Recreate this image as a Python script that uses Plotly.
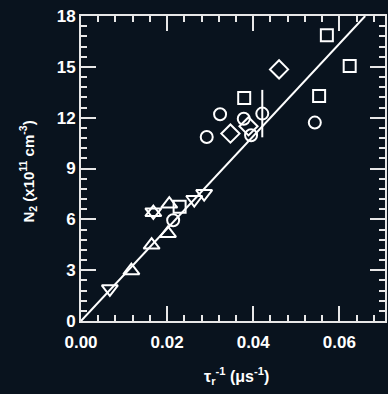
import plotly.graph_objects as go

# Data
sq_x = [0.0571, 0.0624, 0.0553, 0.0379, 0.0229]
sq_y = [16.86, 15.05, 13.28, 13.16, 6.74]

dia_x = [0.0460, 0.0347, 0.0389]
dia_y = [14.85, 11.06, 11.49]

circ_x = [0.0292, 0.0323, 0.0543, 0.0214, 0.0378, 0.0395, 0.0421]
circ_y = [10.86, 12.20, 11.71, 5.95, 11.94, 10.96, 12.24]
circ_err = [0, 0, 0, 0, 0, 0, 1.4]

tup_x = [0.0117, 0.0164, 0.0202, 0.0205, 0.0168]
tup_y = [2.97, 4.48, 5.17, 6.90, 6.40]

tdn_x = [0.0067, 0.0286, 0.0263, 0.0168]
tdn_y = [1.90, 7.52, 7.17, 6.44]

fit_x = [0.0, 0.066]
fit_y = [0.0, 18.0]

x_ticks = [0.00, 0.02, 0.04, 0.06]
x_ticklabels = ["0.00", "0.02", "0.04", "0.06"]
y_ticks = [0, 3, 6, 9, 12, 15, 18]

x_title = "τ<sub>r</sub><sup>-1</sup> (μs<sup>-1</sup>)"
y_title = "N<sub>2</sub> (x10<sup>11</sup> cm<sup>-3</sup>)"

WHITE = "#ffffff"
BG = "#09131e"
FONT = "Liberation Sans, Arial, sans-serif"

fig = go.Figure()

fig.add_trace(go.Scatter(x=fit_x, y=fit_y, mode="lines",
                         line=dict(color=WHITE, width=2), showlegend=False))

def add_markers(x, y, symbol, size, err=None):
    kw = {}
    if err is not None:
        kw["error_y"] = dict(type="data", array=err, visible=True,
                             color=WHITE, thickness=2, width=0)
    fig.add_trace(go.Scatter(
        x=x, y=y, mode="markers", showlegend=False,
        marker=dict(symbol=symbol, size=size, color=WHITE,
                    line=dict(color=WHITE, width=2)),
        **kw))

add_markers(sq_x, sq_y, "square-open", 12)
add_markers(dia_x, dia_y, "diamond-open", 14)
add_markers(circ_x, circ_y, "circle-open", 12, circ_err)
add_markers(tup_x, tup_y, "triangle-up-open", 14)
add_markers(tdn_x, tdn_y, "triangle-down-open", 14)

axis_common = dict(
    showline=True, linecolor="#e8e8e8", linewidth=2, mirror="allticks",
    ticks="inside", ticklen=15, tickwidth=2, tickcolor="#e8e8e8",
    showgrid=False, zeroline=False,
    tickfont=dict(family=FONT, size=17, color=WHITE, weight="bold"),
)

fig.update_xaxes(
    range=[0, 0.0706], tickvals=x_ticks, ticktext=x_ticklabels,
    ticklabelstandoff=5,
    minor=dict(dtick=0.004, ticks="inside", ticklen=6, tickwidth=2,
               tickcolor="#e8e8e8"),
    **axis_common)

fig.update_yaxes(
    range=[0, 18], tickvals=y_ticks,
    minor=dict(dtick=0.6, ticks="inside", ticklen=6, tickwidth=2,
               tickcolor="#e8e8e8"),
    **axis_common)

fig.add_annotation(text=x_title, xref="paper", yref="paper", x=0.51, y=0,
                   xanchor="center", yanchor="top", yshift=-42,
                   showarrow=False,
                   font=dict(family=FONT, size=16, color=WHITE, weight="bold"))
fig.add_annotation(text=y_title, xref="paper", yref="paper", x=0, y=0.49,
                   xanchor="center", yanchor="middle", xshift=-53,
                   textangle=-90, showarrow=False,
                   font=dict(family=FONT, size=15, color=WHITE, weight="bold"))

fig.update_layout(
    width=388, height=394,
    margin=dict(l=81, r=1, t=16, b=73),
    paper_bgcolor=BG, plot_bgcolor=BG,
    showlegend=False,
)

fig.write_html(
    "out.html",
    config={"displayModeBar": False},
    post_script="document.body.style.margin='0';"
                "document.body.style.background='" + BG + "';",
)
